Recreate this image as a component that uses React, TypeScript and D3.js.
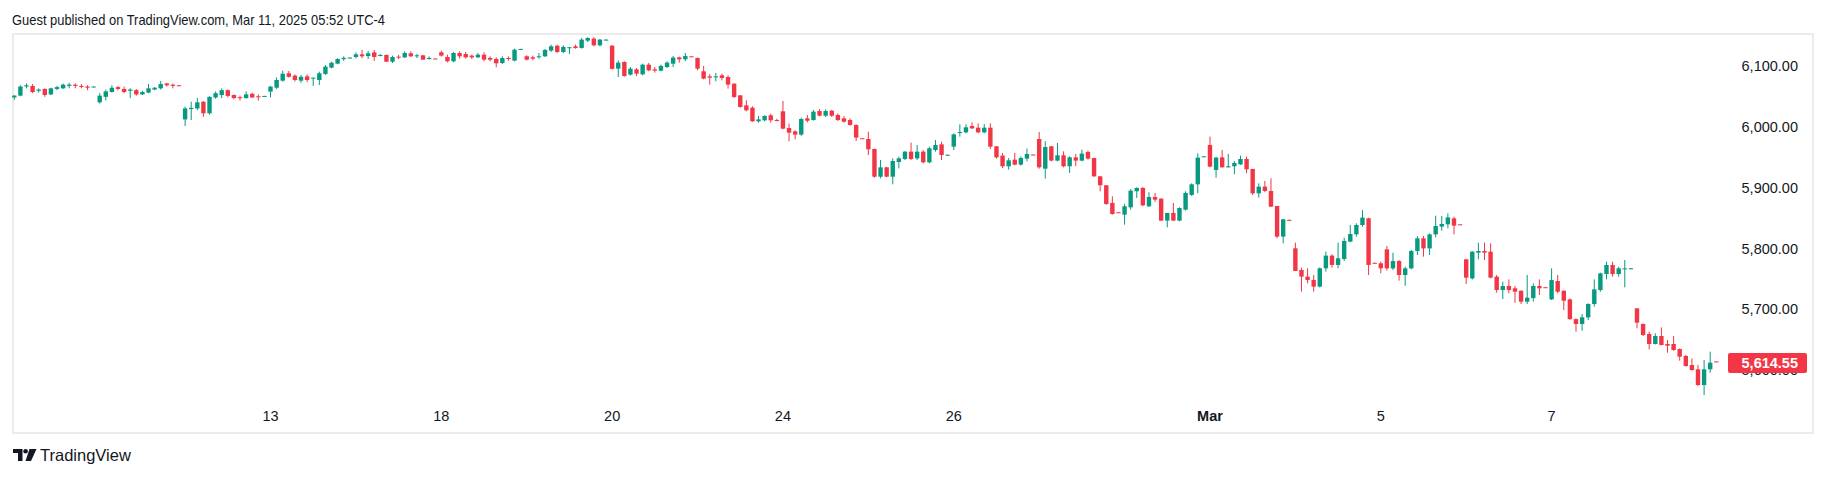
import * as d3 from "d3";

// SPX 30-minute candles, Feb 10 – Mar 10 2025 (14 bars per session)
const OPEN = [
  6048, 6051, 6066, 6067, 6059, 6062, 6053, 6062, 6063, 6067, 6069, 6067, 6066, 6065,
  6040, 6049, 6057, 6065, 6062, 6059, 6060, 6053, 6056, 6061, 6063, 6071, 6069, 6068,
  6012, 6029, 6030, 6041, 6022, 6048, 6052, 6060, 6052, 6048.5, 6047, 6054, 6050, 6050,
  6057.6, 6064, 6075.6, 6087.7, 6083.8, 6075.6, 6082.7, 6079.4, 6076.7, 6086.6, 6097, 6103.5, 6111, 6113,
  6114.5, 6118.8, 6116, 6122, 6117, 6117.8, 6106.8, 6115, 6113.9, 6120.5, 6115.6, 6117.2, 6111.2, 6112,
  6122.2, 6114.5, 6107.4, 6121, 6119.4, 6116.7, 6113.9, 6118.3, 6112.8, 6111.2, 6104.6, 6112.8, 6108.5, 6127.5,
  6115.6, 6114, 6114, 6115.6, 6125, 6133, 6122.7, 6129, 6132, 6129.3, 6141.3, 6144.6, 6133.6, 6142.5,
  6133, 6095.3, 6106.3, 6085.5, 6094.2, 6086, 6101.9, 6094.2, 6092, 6098, 6103.5, 6113.9, 6110.6, 6115.6,
  6112.8, 6091, 6082.7, 6081, 6084.4, 6081.6, 6070.7, 6051.5, 6035, 6031.3, 6008.8, 6010.5, 6018.7, 6011,
  6025.3, 5997.9, 5992.4, 5987, 6013.7, 6011, 6025.7, 6018.1, 6026.3, 6019.2, 6013.7, 6011, 6002.8, 5981,
  5979.8, 5963.4, 5917.9, 5933.3, 5917.9, 5942, 5947, 5959, 5948, 5959, 5941.5, 5961.7, 5971, 5953.5,
  5967.2, 5989.6, 5990.7, 6001.1, 5998.4, 5990.7, 5998.4, 5967.8, 5952.5, 5935, 5945.9, 5937.7, 5947.6, 5954.2,
  5979.8, 5931.1, 5967.8, 5944.3, 5953, 5935, 5949.7, 5944.3, 5958.5, 5948.6, 5918.5, 5903.8, 5874.8, 5859.5,
  5855.6, 5867.6, 5894, 5899.4, 5869.3, 5884.6, 5881.9, 5845.8, 5858.4, 5845.8, 5863.8, 5887.9, 5905.4, 5951,
  5970, 5929, 5949.7, 5933.3, 5935, 5938.2, 5947, 5930.6, 5890.6, 5901.6, 5894.5, 5869.8, 5819.5, 5847,
  5800.3, 5764.7, 5753.8, 5748.3, 5737.4, 5767.5, 5788.3, 5773, 5782.8, 5811.3, 5823.3, 5838.6, 5849.6, 5776.5,
  5775.7, 5798.6, 5767.4, 5779.4, 5756.5, 5767.4, 5795.9, 5816.7, 5800.2, 5823.2, 5836, 5839.7, 5849.5, 5839.7,
  5782.2, 5750.9, 5793.2, 5795.9, 5794.8, 5753.7, 5731.8, 5738.4, 5734.6, 5730.7, 5712.7, 5718.5, 5738.4, 5736.4,
  5716.5, 5746.6, 5730.7, 5716.5, 5684, 5676, 5687, 5708.8, 5731.8, 5758.1, 5772.9, 5758.1, 5766, 5767.2,
  5701.7, 5676, 5659.6, 5643.2, 5656.3, 5643.2, 5643.2, 5634.9, 5623.5, 5608.7, 5601.6, 5575.8, 5601.6, 5614.6,
];

const HIGH = [
  6052, 6068, 6071, 6070, 6063, 6063, 6064, 6067, 6071, 6072, 6071, 6070, 6068, 6066,
  6055, 6061, 6068, 6067, 6066, 6063, 6062, 6059, 6070, 6065, 6075, 6072, 6071, 6068.5,
  6033, 6041, 6047, 6042, 6050, 6058, 6063, 6061, 6053, 6051, 6058, 6056, 6053, 6050.7,
  6067, 6081, 6092, 6091.5, 6086, 6085, 6086, 6080.6, 6090.4, 6101.3, 6106.8, 6112.3, 6115.6, 6113.8,
  6122, 6126, 6124.3, 6126, 6119.4, 6118.5, 6116.7, 6117.8, 6123.8, 6123.8, 6119.4, 6118, 6115.6, 6112.3,
  6124.9, 6118.3, 6122.7, 6123.8, 6122.7, 6118.3, 6121, 6122.2, 6115.6, 6113.9, 6115.6, 6115.6, 6128.2, 6128,
  6117.2, 6116.7, 6121, 6127.6, 6134.7, 6134.7, 6133.6, 6131, 6134.7, 6145.7, 6146.8, 6146.8, 6144, 6143.5,
  6134, 6109, 6107.4, 6098, 6096.4, 6103.5, 6104.6, 6098, 6101.9, 6107.4, 6116.1, 6115, 6121, 6116,
  6113.5, 6099.7, 6086, 6088.2, 6087, 6084.4, 6071, 6052, 6043.3, 6033.5, 6017.6, 6018.7, 6021.4, 6013,
  6042.2, 6005, 5994, 6015, 6019.2, 6027.4, 6029, 6028.5, 6027.4, 6022, 6017.5, 6013.7, 6003.9, 5981.5,
  5991.8, 5964, 5945.3, 5934, 5948, 5950.8, 5960.1, 5973.8, 5969.9, 5961.7, 5967.2, 5978.1, 5975.4, 5954.5,
  5989.1, 6003.9, 6003.9, 6007.1, 6005.5, 6004.4, 6005.5, 5968, 5956.9, 5948.6, 5956.9, 5951.4, 5964, 5954.5,
  5991.3, 5976, 5968, 5973.3, 5959.6, 5951.4, 5955.2, 5962.3, 5960.7, 5949, 5919, 5904, 5885.7, 5860,
  5873.1, 5897.7, 5900.5, 5901, 5892.3, 5891.2, 5882.5, 5858.5, 5874.8, 5867.6, 5894, 5907, 5956.3, 5951.6,
  5983.7, 5950.8, 5961.8, 5955.2, 5943.7, 5952.5, 5950.8, 5931, 5907, 5910.9, 5915.2, 5870, 5848.5, 5847.5,
  5809.6, 5768.6, 5767.5, 5756.5, 5769, 5794.8, 5790.5, 5809.6, 5817.8, 5838.6, 5841.4, 5863.3, 5850.5, 5777,
  5778.4, 5804, 5793.1, 5781.1, 5770.2, 5797.5, 5820.5, 5820.5, 5824.9, 5853.9, 5853.3, 5857.7, 5852.2, 5840,
  5783, 5795.4, 5809.6, 5809.6, 5808.5, 5756.5, 5745.5, 5749.3, 5738.4, 5731, 5756.5, 5742.8, 5749.3, 5737,
  5767.4, 5756.5, 5731, 5718, 5685.3, 5692.4, 5710, 5749.3, 5760.3, 5778.3, 5778.3, 5770.1, 5781.1, 5768,
  5702, 5677, 5663.4, 5660.7, 5670.5, 5649.7, 5656.3, 5636, 5625.1, 5619.6, 5608.7, 5616.9, 5630.6, 5615,
];

const LOW = [
  6044, 6050, 6063, 6055, 6056, 6049, 6052, 6060, 6062, 6063, 6063, 6063, 6060, 6064.5,
  6038, 6043, 6056, 6060, 6055, 6047, 6051, 6052, 6055, 6060, 6061, 6066, 6063, 6067,
  6001, 6011, 6027, 6016, 6020, 6046, 6047, 6048, 6045, 6043, 6046, 6047, 6043, 6049.7,
  6048, 6062, 6074, 6080.6, 6074, 6072, 6073, 6066.9, 6068.5, 6085, 6095.9, 6102.4, 6108, 6112.8,
  6112.3, 6112.3, 6111.2, 6108, 6115.6, 6106, 6104.6, 6111.2, 6112.8, 6114.5, 6112.8, 6109.6, 6110.1, 6111.5,
  6115, 6105.7, 6105.7, 6111.7, 6111.7, 6111.2, 6112.8, 6107.4, 6107.4, 6097.5, 6103, 6108.5, 6107.4, 6127,
  6108.5, 6109, 6111.7, 6114.5, 6122.7, 6121, 6121, 6119.4, 6128, 6128.2, 6139, 6132, 6132, 6142,
  6094, 6081.6, 6082.2, 6083.8, 6083.3, 6084.4, 6091, 6088.8, 6091, 6096.4, 6098, 6105.2, 6107.4, 6115,
  6092.6, 6077.8, 6069.1, 6074.5, 6076, 6062.5, 6047, 6031, 6025.3, 6007.8, 6006.7, 6008.8, 6006.7, 6008.8,
  5995.7, 5976, 5979.3, 5985, 6007.2, 6009.9, 6017, 6016, 6016, 6009.3, 6006.6, 6001.7, 5976.5, 5980.5,
  5953.5, 5916.3, 5915.2, 5917, 5905.4, 5931.6, 5945.3, 5945.3, 5945.3, 5939.8, 5939.8, 5959, 5945.3, 5953,
  5961.7, 5983.6, 5989.1, 5996.2, 5989.1, 5989.1, 5963.4, 5947.6, 5932.2, 5929.5, 5936.6, 5936, 5943.1, 5953.5,
  5931.1, 5914.7, 5943.2, 5943.2, 5933.3, 5924, 5935, 5943.2, 5945.9, 5917.6, 5893.9, 5872, 5855.6, 5859,
  5839.2, 5863.8, 5883, 5869.3, 5868.2, 5876.4, 5845, 5834.8, 5845, 5844.7, 5862.2, 5886.3, 5890.6, 5950.5,
  5933.3, 5916.3, 5933, 5933, 5921.8, 5937.1, 5923.5, 5887.9, 5883.5, 5892.3, 5868, 5816.7, 5808.5, 5846,
  5763, 5729.2, 5742.8, 5729.2, 5736, 5762, 5768.6, 5767.5, 5779.5, 5810.2, 5819.5, 5836, 5756.5, 5776,
  5759.3, 5763.6, 5764.7, 5747.2, 5738.9, 5765.8, 5789.3, 5786.6, 5789.3, 5818.3, 5829.2, 5833.1, 5823.2, 5839.2,
  5741.7, 5749, 5782.2, 5781.1, 5751, 5727.4, 5717, 5726.4, 5711, 5708.8, 5708.8, 5712.7, 5723.6, 5736,
  5715.4, 5726.4, 5699, 5683, 5663.4, 5665, 5682.6, 5704.5, 5729.1, 5749.3, 5753.7, 5753.7, 5736.2, 5766.5,
  5668.9, 5656.3, 5634.4, 5642.6, 5641, 5628.9, 5632.2, 5615.8, 5605.9, 5599.4, 5574.2, 5559.4, 5596.1, 5614,
];

const CLOSE = [
  6051, 6066, 6068, 6057, 6061, 6052, 6063, 6065, 6069, 6069, 6067, 6066, 6064, 6066,
  6051, 6058, 6064, 6062, 6057, 6061, 6053, 6057, 6063, 6064, 6070, 6068, 6067, 6067.5,
  6030, 6031, 6040, 6022, 6049, 6055, 6060, 6050.5, 6047, 6047, 6053, 6048, 6049, 6050.5,
  6065.8, 6076.7, 6087, 6082, 6076.7, 6082, 6076.7, 6080.5, 6087.7, 6098.6, 6105, 6111.2, 6113, 6113.5,
  6118.8, 6115.6, 6120.5, 6114.5, 6117.8, 6106.8, 6114.5, 6113.4, 6121, 6115.6, 6117.2, 6110.1, 6112.8, 6111.7,
  6116.7, 6107.4, 6121, 6115.6, 6113.9, 6113.9, 6118.3, 6110.1, 6110.1, 6104.1, 6112.8, 6111.2, 6126.5, 6127.7,
  6110.1, 6111.7, 6115.6, 6126, 6132, 6122.7, 6131, 6130.5, 6129.3, 6143, 6145.7, 6133.6, 6143, 6143,
  6095, 6105.2, 6083.3, 6095.3, 6087.1, 6101.9, 6092.6, 6092, 6099.7, 6105.2, 6113.4, 6110.6, 6116.1, 6115.2,
  6095.3, 6078.9, 6080.5, 6082.7, 6080, 6069.1, 6048.8, 6032.4, 6026.9, 6008.8, 6012, 6017.6, 6010.5, 6010.5,
  5996.8, 5990.2, 5987, 6012.6, 6009.9, 6024.7, 6018.1, 6025.7, 6018.1, 6011, 6008.2, 6002.8, 5982, 5980.8,
  5962.8, 5917.9, 5933.3, 5917.9, 5943.7, 5948, 5959, 5947, 5959, 5941.5, 5964.5, 5969.9, 5953.5, 5954,
  5987.4, 5991.3, 5999, 5997.3, 5990.7, 5998.4, 5967.2, 5949.7, 5935, 5944.8, 5937.7, 5948.6, 5955.2, 5953.9,
  5933.3, 5966.7, 5944.3, 5953, 5935, 5949.7, 5944.3, 5955.8, 5947.6, 5918.5, 5903.8, 5873.1, 5856.7, 5859,
  5869.3, 5895, 5899.4, 5870.9, 5884.6, 5880.2, 5845.8, 5858.4, 5845.8, 5866.5, 5891.2, 5905.4, 5949.2, 5951.4,
  5934.4, 5949.2, 5933.3, 5935, 5940.4, 5947, 5930, 5890.6, 5901.6, 5894.5, 5868.7, 5819.5, 5848, 5846.5,
  5763.1, 5753.8, 5748.3, 5737.4, 5767.5, 5788.3, 5773, 5783.9, 5812.4, 5823.8, 5838.6, 5850.7, 5773, 5776.2,
  5767.5, 5767.4, 5779.4, 5756.5, 5767.4, 5795.9, 5816.7, 5800.2, 5823.2, 5836.9, 5840.2, 5851.1, 5837.5, 5839.4,
  5752.1, 5794.8, 5795.9, 5793.2, 5752.1, 5731.8, 5738.4, 5731.8, 5729.1, 5712.7, 5719.2, 5738.4, 5734.6, 5736,
  5748.2, 5729.1, 5714.3, 5684, 5676, 5687, 5708.8, 5732.9, 5759.2, 5772.9, 5758.1, 5767.4, 5767.4, 5767.5,
  5678.2, 5658, 5643.2, 5656.3, 5641.5, 5640.4, 5633.3, 5622.4, 5607, 5600.5, 5575.8, 5601.6, 5612.5, 5614.55,
];

// bar index of each labelled session start
const DAY_TICKS = [42, 70, 98, 126, 154, 196, 224, 252];
const DAY_LABELS = ["13", "18", "20", "24", "26", "Mar", "5", "7"];
const PRICE_TICKS = [6100, 6000, 5900, 5800, 5700, 5600];
const LAST_PRICE = 5614.55;

const W = 1826, H = 478;
const UP = "#089981", DOWN = "#f23645", TEXT = "#131722";
const FONT = "'Liberation Sans', Arial, sans-serif";

export default function App() {
  const x = d3.scaleLinear().domain([0, CLOSE.length - 1]).range([14.3, 1716.3]);
  const y = d3.scaleLinear().domain([5600, 6100]).range([370.3, 65.8]);
  const fmt = d3.format(",.2f");
  const bw = 4.4;

  const bars = CLOSE.map((c, i) => {
    const o = OPEN[i];
    const top = y(Math.max(o, c));
    const h = Math.max(1, Math.abs(y(o) - y(c)));
    return { i, top, h, hi: y(HIGH[i]), lo: y(LOW[i]), col: c >= o ? UP : DOWN };
  });

  const tagY = y(LAST_PRICE) + 1.5;

  return (
    <svg width={W} height={H} viewBox={`0 0 ${W} ${H}`} style={{ position: "absolute", left: 0, top: 0, background: "#fff" }} fontFamily={FONT}>
      <rect width={W} height={H} fill="#fff" />
      <text x={12} y={25} fontSize={15} fill={TEXT} textLength={373} lengthAdjust="spacingAndGlyphs">
        Guest published on TradingView.com, Mar 11, 2025 05:52 UTC-4
      </text>
      <rect x={13} y={34} width={1800} height={399} fill="#fff" stroke="#ebebeb" strokeWidth={2} />

      <g>
        {bars.map((b) => (
          <g key={b.i} fill={b.col} stroke={b.col}>
            <line x1={x(b.i)} x2={x(b.i)} y1={b.hi} y2={b.lo} strokeWidth={1} />
            <rect x={x(b.i) - bw / 2} y={b.top} width={bw} height={b.h} stroke="none" />
          </g>
        ))}
      </g>

      <g fontSize={14.5} fill={TEXT} textAnchor="end">
        {PRICE_TICKS.map((p) => (
          <text key={p} x={1798} y={y(p) + 5}>{fmt(p)}</text>
        ))}
      </g>

      <rect x={1728} y={tagY - 10} width={79} height={20} rx={2} fill={DOWN} />
      <text x={1798} y={tagY + 5} fontSize={14.5} fill="#fff" textAnchor="end" fontWeight={600}>{fmt(LAST_PRICE)}</text>

      <g fontSize={14.5} fill={TEXT} textAnchor="middle">
        {DAY_TICKS.map((t, k) => (
          <text key={t} x={x(t)} y={421} fontWeight={DAY_LABELS[k] === "Mar" ? 700 : 400}>{DAY_LABELS[k]}</text>
        ))}
      </g>

      <g fill={TEXT}>
        <path d="M13 449 H22.5 V461 H18 V453 H13 Z" />
        <circle cx={25.6} cy={451.3} r={2.3} />
        <path d="M29.5 449 H36.5 L31 461 H25.5 Z" />
        <text x={40} y={461} fontSize={16.5}>TradingView</text>
      </g>
    </svg>
  );
}
